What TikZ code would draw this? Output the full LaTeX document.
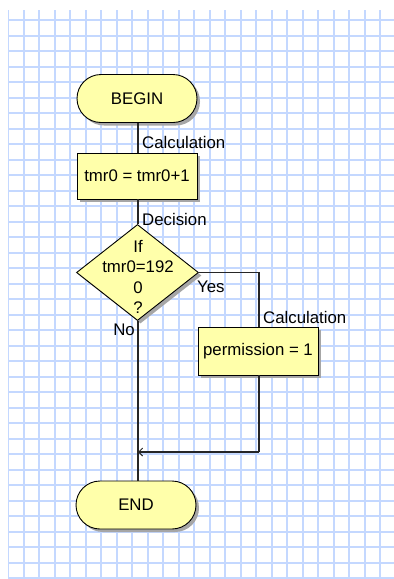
\documentclass[tikz,border=0pt]{standalone}
\usepackage{fontspec}
\setmainfont{Liberation Sans}
\usetikzlibrary{shapes.geometric,shadows,arrows.meta}
\definecolor{gridblue}{RGB}{196,216,255}
\definecolor{flowfill}{RGB}{255,255,170}
\begin{document}
\begin{tikzpicture}[x=1pt,y=-1pt,
  font=\fontsize{16.8}{20.5}\selectfont,
  gridline/.style={draw=gridblue,line width=2pt},
  shade/.style={drop shadow={shadow xshift=3pt,shadow yshift=-3pt,fill=black!35,opacity=1}},
  terminal/.style={draw=black,line width=0.9pt,fill=flowfill,rectangle,rounded corners=24pt,minimum width=120pt,minimum height=48pt,inner sep=0pt,shade},
  procbox/.style={draw=black,line width=0.9pt,fill=flowfill,rectangle,minimum width=120pt,minimum height=46pt,inner sep=0pt,shade},
  decbox/.style={draw=black,line width=0.9pt,fill=flowfill,diamond,aspect=1.27,minimum width=122pt,minimum height=96pt,inner sep=0pt,shade},
  conn/.style={draw=black!85,line width=1.2pt},
  lbl/.style={inner sep=0pt}
]
\useasboundingbox (0,0) rectangle (394,579);
\fill[white] (0,0) rectangle (394,579);
\begin{scope}
\clip (8,10) rectangle (394,579);
\foreach \k in {0,...,25} \draw[gridline] ({8+15.5*\k},10) -- ({8+15.5*\k},579);
\foreach \k in {0,...,36} \draw[gridline] (8,{20+15.5*\k}) -- (394,{20+15.5*\k});
\end{scope}

\node[terminal] (begin) at (137,98.5) {BEGIN};
\node[procbox] (calc) at (137,176) {tmr0 = tmr0+1};
\node[decbox] (dec) at (137.5,272.5) {};
\node[align=center,inner sep=0pt] (dectext) at (138,277) {If\\tmr0=192\\0\\?};
\node[procbox,minimum height=48pt] (perm) at (258,351) {permission = 1};
\node[terminal] (end) at (136,505) {END};
\coordinate (merge) at (138,452);
\coordinate (permdown) at (259,452);

\draw[conn] (begin.south -| 138,0) -- (calc.north -| 138,0);
\draw[conn] (calc.south -| 138,0) -- (dec.north -| 138,0);
\draw[conn] (dec.south -| 138,0) -- (end.north -| 138,0);
\draw[conn] (dec.east) -| (perm.north -| 259,0);
\draw[conn] (perm.south -| 259,0) -- (permdown);
\draw[conn,-{Straight Barb[length=4pt,width=8pt,line width=0.9pt]}] (permdown) -- (merge);

\node[lbl,anchor=west] (l1) at (142,142) {Calculation};
\node[lbl,anchor=west] (l2) at (142,219) {Decision};
\node[lbl,anchor=west] (l3) at (197,287) {Yes};
\node[lbl,anchor=west] (l4) at (263,317) {Calculation};
\node[lbl,anchor=east] (l5) at (135,330) {No};
\end{tikzpicture}
\end{document}
